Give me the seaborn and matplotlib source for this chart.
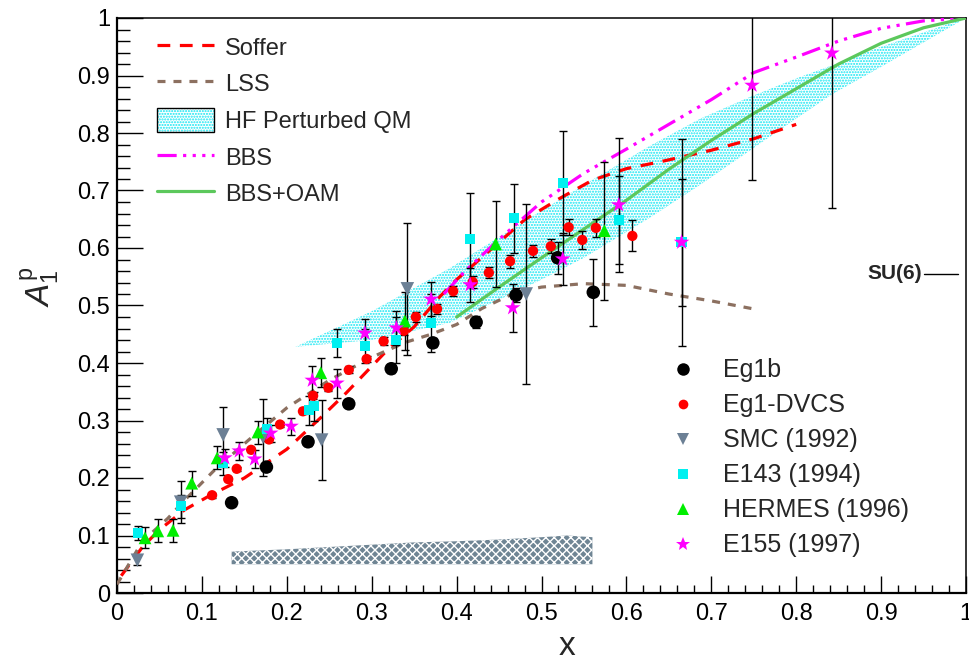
import matplotlib
matplotlib.use("Agg")
import matplotlib.pyplot as plt
import seaborn as sns
import numpy as np
from matplotlib.lines import Line2D
from matplotlib.patches import Patch
from matplotlib.legend_handler import HandlerTuple
from matplotlib.ticker import MultipleLocator, FuncFormatter

# ---------------- data ----------------
# Theory curves
soffer_x = [0.005, 0.03, 0.05, 0.08, 0.11, 0.15, 0.20, 0.24, 0.27, 0.32, 0.35, 0.38, 0.40, 0.43,
            0.48, 0.52, 0.56, 0.60, 0.64, 0.70, 0.75, 0.80]
soffer_y = [0.03, 0.08, 0.11, 0.145, 0.17, 0.20, 0.25, 0.305, 0.348, 0.425, 0.463, 0.515, 0.545,
            0.584, 0.649, 0.685, 0.718, 0.738, 0.75, 0.77, 0.79, 0.815]

lss_x = [0.0, 0.03, 0.06, 0.08, 0.115, 0.155, 0.20, 0.25, 0.30, 0.34, 0.37, 0.40, 0.43, 0.47,
         0.50, 0.55, 0.60, 0.65, 0.70, 0.75]
lss_y = [0.015, 0.09, 0.13, 0.162, 0.214, 0.266, 0.322, 0.37, 0.41, 0.436, 0.45, 0.467, 0.495,
         0.523, 0.532, 0.538, 0.535, 0.52, 0.508, 0.494]

hf_x = [0.21, 0.30, 0.392, 0.45, 0.50, 0.55, 0.628, 0.687, 0.746, 0.80, 0.843, 0.90, 1.0]
hf_hi = [0.428, 0.49, 0.565, 0.619, 0.665, 0.71, 0.778, 0.825, 0.863, 0.895, 0.918, 0.95, 1.0]
hf_lo = [0.428, 0.44, 0.47, 0.51, 0.545, 0.583, 0.653, 0.71, 0.77, 0.825, 0.868, 0.915, 1.0]

bbs_x = [0.385, 0.41, 0.45, 0.50, 0.55, 0.60, 0.65, 0.70, 0.75, 0.80, 0.85, 0.90, 0.95, 1.0]
bbs_y = [0.52, 0.56, 0.615, 0.68, 0.73, 0.772, 0.815, 0.858, 0.905, 0.932, 0.96, 0.982, 0.995, 1.0]

oam_x = [0.40, 0.45, 0.50, 0.55, 0.60, 0.65, 0.70, 0.75, 0.80, 0.85, 0.90, 0.95, 1.0]
oam_y = [0.48, 0.532, 0.583, 0.633, 0.683, 0.737, 0.787, 0.834, 0.877, 0.92, 0.956, 0.983, 1.0]

# Systematic error band (Eg1b)
sys_x = [0.135, 0.20, 0.25, 0.30, 0.35, 0.40, 0.45, 0.50, 0.53, 0.56]
sys_hi = [0.072, 0.076, 0.08, 0.084, 0.088, 0.09, 0.093, 0.097, 0.10, 0.097]
sys_lo = [0.05, 0.05, 0.05, 0.05, 0.05, 0.05, 0.05, 0.05, 0.05, 0.05]

# Data sets
eg1b_x = [0.135, 0.176, 0.225, 0.273, 0.323, 0.372, 0.423, 0.470, 0.519, 0.561]
eg1b_y = [0.157, 0.219, 0.263, 0.329, 0.390, 0.435, 0.471, 0.518, 0.583, 0.523]
eg1b_e = [0.005, 0.007, 0.007, 0.007, 0.007, 0.008, 0.010, 0.012, 0.028, 0.058]

dvcs_x = [0.112, 0.131, 0.141, 0.158, 0.179, 0.192, 0.219, 0.231, 0.249, 0.273, 0.294, 0.314,
          0.338, 0.352, 0.377, 0.396, 0.419, 0.438, 0.463, 0.490, 0.511, 0.532, 0.548, 0.564, 0.607]
dvcs_y = [0.170, 0.198, 0.216, 0.249, 0.267, 0.293, 0.316, 0.343, 0.357, 0.388, 0.407, 0.438,
          0.456, 0.480, 0.494, 0.525, 0.541, 0.557, 0.577, 0.595, 0.603, 0.636, 0.614, 0.635, 0.621]
dvcs_e = [0.004, 0.004, 0.004, 0.004, 0.005, 0.005, 0.005, 0.005, 0.005, 0.006, 0.006, 0.007,
          0.007, 0.008, 0.008, 0.009, 0.010, 0.010, 0.011, 0.010, 0.012, 0.014, 0.015, 0.015, 0.027]

smc_x = [0.024, 0.075, 0.125, 0.172, 0.241, 0.342, 0.482]
smc_y = [0.057, 0.158, 0.275, 0.271, 0.266, 0.529, 0.520]
smc_e = [0.008, 0.036, 0.048, 0.067, 0.070, 0.115, 0.156]

e143_x = [0.025, 0.075, 0.125, 0.177, 0.226, 0.232, 0.259, 0.292, 0.329, 0.370, 0.416, 0.468,
          0.525, 0.591, 0.665]
e143_y = [0.104, 0.151, 0.226, 0.285, 0.318, 0.325, 0.435, 0.430, 0.440, 0.470, 0.616, 0.652,
          0.713, 0.649, 0.610]
e143_e = [0.012, 0.020, 0.020, 0.020, 0.025, 0.025, 0.025, 0.030, 0.040, 0.050, 0.080, 0.060,
          0.090, 0.077, 0.110]

hermes_x = [0.033, 0.048, 0.066, 0.088, 0.118, 0.166, 0.240, 0.339, 0.446, 0.574]
hermes_y = [0.096, 0.108, 0.109, 0.191, 0.235, 0.280, 0.383, 0.473, 0.607, 0.630]
hermes_e = [0.018, 0.020, 0.020, 0.022, 0.020, 0.020, 0.025, 0.050, 0.075, 0.120]

e155_x = [0.127, 0.144, 0.162, 0.181, 0.205, 0.230, 0.259, 0.292, 0.329, 0.370, 0.416, 0.466,
          0.525, 0.591, 0.665, 0.748, 0.842]
e155_y = [0.235, 0.247, 0.233, 0.278, 0.290, 0.370, 0.365, 0.452, 0.461, 0.511, 0.536, 0.496,
          0.581, 0.675, 0.610, 0.883, 0.939]
e155_e = [0.015, 0.015, 0.015, 0.015, 0.015, 0.025, 0.025, 0.025, 0.030, 0.030, 0.030, 0.042,
          0.045, 0.117, 0.180, 0.165, 0.270]

su6_value = 5.0 / 9.0

# ---------------- style ----------------
sns.set_theme(style="ticks")
plt.rcParams['font.family'] = ['Liberation Sans', 'DejaVu Sans']
plt.rcParams['mathtext.fontset'] = 'custom'
plt.rcParams['mathtext.rm'] = 'Liberation Sans'
plt.rcParams['mathtext.it'] = 'Liberation Sans:italic'
plt.rcParams['hatch.linewidth'] = 1.0

fig = plt.figure(figsize=(9.7, 6.62), dpi=100)
ax = fig.add_axes([117 / 970, 1 - 593 / 662, 849 / 970, 575 / 662])

# colors
C_SOFFER = '#ff0000'
C_LSS = '#8c7060'
C_HF = '#10e6f2'
C_BBS = '#ff00ff'
C_OAM = '#5cc85c'
C_SMC = '#6c8095'
C_E143 = '#00f0f0'
C_HERMES = '#00ee00'
C_E155 = '#ff00ff'

BBS_LS = (0, (6, 2, 1, 2, 1, 2, 1, 2))
SOFFER_LS = (0, (4, 3))
LSS_LS = (0, (2.5, 2.5))

# HF band
ax.fill_between(hf_x, hf_lo, hf_hi, facecolor='white', edgecolor=C_HF, hatch='......',
                linewidth=0, zorder=1)
# systematic band
ax.fill_between(sys_x, sys_lo, sys_hi, facecolor='#6f8594', edgecolor='white', hatch='xxxx',
                linewidth=0, zorder=1)

# theory curves
sns.lineplot(x=soffer_x, y=soffer_y, ax=ax, color=C_SOFFER, lw=2.3, linestyle=SOFFER_LS,
             sort=False, estimator=None, zorder=3)
sns.lineplot(x=lss_x, y=lss_y, ax=ax, color=C_LSS, lw=2.3, linestyle=LSS_LS,
             sort=False, estimator=None, zorder=3)
sns.lineplot(x=bbs_x, y=bbs_y, ax=ax, color=C_BBS, lw=2.3, linestyle=BBS_LS,
             sort=False, estimator=None, zorder=3)
sns.lineplot(x=oam_x, y=oam_y, ax=ax, color=C_OAM, lw=2.3, sort=False, estimator=None, zorder=3)

# error bars
for xs, ys, es in [(eg1b_x, eg1b_y, eg1b_e), (dvcs_x, dvcs_y, dvcs_e), (smc_x, smc_y, smc_e),
                   (e143_x, e143_y, e143_e), (hermes_x, hermes_y, hermes_e),
                   (e155_x, e155_y, e155_e)]:
    ax.errorbar(xs, ys, yerr=es, fmt='none', ecolor='black', elinewidth=1.0, capsize=3,
                capthick=1.0, zorder=4)

# points
sns.scatterplot(x=eg1b_x, y=eg1b_y, ax=ax, marker='o', s=95, color='black', edgecolor='none', zorder=5)
sns.scatterplot(x=dvcs_x, y=dvcs_y, ax=ax, marker='o', s=55, color='#ff0000', edgecolor='none', zorder=5)
sns.scatterplot(x=smc_x, y=smc_y, ax=ax, marker='v', s=95, color=C_SMC, edgecolor='none', zorder=5)
sns.scatterplot(x=e143_x, y=e143_y, ax=ax, marker='s', s=55, color=C_E143, edgecolor='none', zorder=5)
sns.scatterplot(x=hermes_x, y=hermes_y, ax=ax, marker='^', s=85, color=C_HERMES, edgecolor='none', zorder=5)
sns.scatterplot(x=e155_x, y=e155_y, ax=ax, marker='*', s=140, color=C_E155, edgecolor='none', zorder=5)

# SU(6)
ax.plot([0.95, 0.99], [su6_value, su6_value], color='black', lw=1.0, zorder=3)
ax.text(0.948, su6_value, 'SU(6)', ha='right', va='center', fontsize=15, fontweight='bold')

# axes
ax.set_xlim(0, 1)
ax.set_ylim(0, 1)
ax.xaxis.set_major_locator(MultipleLocator(0.1))
ax.xaxis.set_minor_locator(MultipleLocator(0.02))
ax.yaxis.set_major_locator(MultipleLocator(0.1))
ax.yaxis.set_minor_locator(MultipleLocator(0.02))
fmt = FuncFormatter(lambda v, p: '%g' % round(v, 2))
ax.xaxis.set_major_formatter(fmt)
ax.yaxis.set_major_formatter(fmt)
ax.tick_params(axis='both', which='both', direction='in', top=False, right=False,
               labelsize=17, width=1.0, color='black', labelcolor='black')
ax.tick_params(axis='x', which='major', length=12, pad=7)
ax.tick_params(axis='x', which='minor', length=6)
ax.tick_params(axis='y', which='major', length=19, pad=5)
ax.tick_params(axis='y', which='minor', length=9.5)
for s in ['left', 'bottom']:
    ax.spines[s].set_linewidth(1.6)
for s in ['top', 'right']:
    ax.spines[s].set_linewidth(1.1)
for s in ax.spines.values():
    s.set_color('black')

ax.set_xlabel('x', fontsize=24)
ax.xaxis.set_label_coords(0.53, -0.093)
ax.xaxis.label.set_va('center')
ax.set_ylabel(r'$\mathit{A}_{\mathrm{1}}^{\mathrm{p}}$', fontsize=24)
ax.yaxis.set_label_coords(-0.0907, 0.532)
ax.yaxis.label.set_va('center')

# legends
hf_handle = (Patch(facecolor='white', edgecolor=C_HF, hatch='......', linewidth=0),
             Patch(facecolor='none', edgecolor='black', linewidth=1.0))
h1 = [Line2D([], [], color=C_SOFFER, lw=2.3, linestyle=SOFFER_LS),
      Line2D([], [], color=C_LSS, lw=2.3, linestyle=LSS_LS),
      hf_handle,
      Line2D([], [], color=C_BBS, lw=2.3, linestyle=BBS_LS),
      Line2D([], [], color=C_OAM, lw=2.3)]
l1 = ['Soffer', 'LSS', 'HF Perturbed QM', 'BBS', 'BBS+OAM']
leg1 = ax.legend(h1, l1, loc='upper left', bbox_to_anchor=(0.047, 0.971), frameon=False,
                 fontsize=17, handlelength=2.42, handleheight=1.2, handletextpad=0.47,
                 labelspacing=0.49, borderpad=0, borderaxespad=0,
                 handler_map={tuple: HandlerTuple(ndivide=1, pad=0)})
ax.add_artist(leg1)

h2 = [Line2D([], [], marker='o', color='black', ls='none', markersize=9, markeredgewidth=0),
      Line2D([], [], marker='o', color='#ff0000', ls='none', markersize=7, markeredgewidth=0),
      Line2D([], [], marker='v', color=C_SMC, ls='none', markersize=8, markeredgewidth=0),
      Line2D([], [], marker='s', color=C_E143, ls='none', markersize=7, markeredgewidth=0),
      Line2D([], [], marker='^', color=C_HERMES, ls='none', markersize=8, markeredgewidth=0),
      Line2D([], [], marker='*', color=C_E155, ls='none', markersize=10, markeredgewidth=0)]
l2 = ['Eg1b', 'Eg1-DVCS', 'SMC (1992)', 'E143 (1994)', 'HERMES (1996)', 'E155 (1997)']
leg2 = ax.legend(h2, l2, loc='upper left', bbox_to_anchor=(0.652, 0.408), frameon=False,
                 fontsize=18, handlelength=1.0, handletextpad=1.1, labelspacing=0.44,
                 borderpad=0, borderaxespad=0)

fig.savefig('out.png', dpi=100, facecolor='white')
